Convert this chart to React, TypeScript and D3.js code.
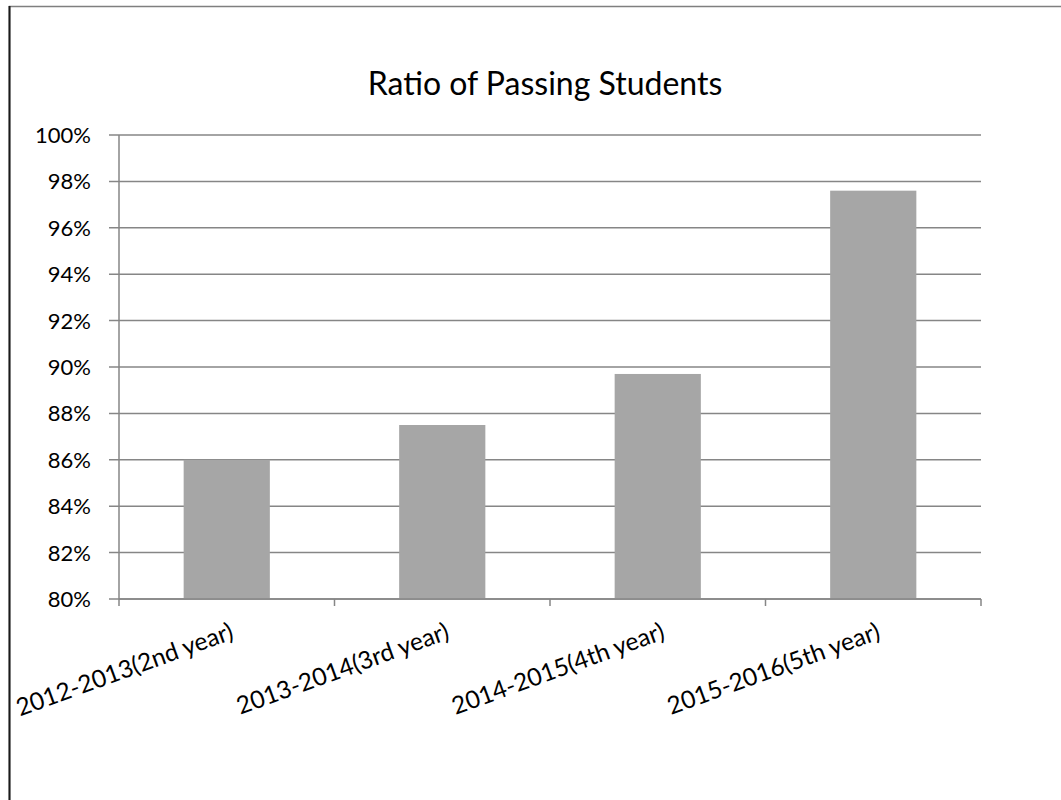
import { useEffect, useRef } from "react";
import * as d3 from "d3";

const categories = [
  "2012-2013(2nd year)",
  "2013-2014(3rd year)",
  "2014-2015(4th year)",
  "2015-2016(5th year)",
];
const passRatio = [0.86, 0.875, 0.897, 0.976];
const yTicks = [0.8, 0.82, 0.84, 0.86, 0.88, 0.9, 0.92, 0.94, 0.96, 0.98, 1.0];

const W = 1061;
const H = 800;
const FONT = "Lato, 'Open Sans', sans-serif";

export default function App() {
  const svgRef = useRef<SVGSVGElement>(null);

  useEffect(() => {
    if (!svgRef.current) return;
    const margin = { top: 135, right: 80, bottom: 201, left: 119 };
    const width = 981 - margin.left;
    const height = 599 - margin.top;

    d3.select(svgRef.current).selectAll("*").remove();
    const root = d3.select(svgRef.current).attr("width", W).attr("height", H);

    // outer chart frame
    root.append("rect")
      .attr("x", 9.5).attr("y", 6.5)
      .attr("width", W + 20).attr("height", H + 20)
      .attr("fill", "white")
      .attr("stroke", "#7f7f7f").attr("stroke-width", 1.5);
    root.append("line")
      .attr("x1", 9.5).attr("x2", 9.5).attr("y1", 6).attr("y2", H)
      .attr("stroke", "#1a1a1a").attr("stroke-width", 2);

    root.append("text")
      .attr("x", 545).attr("y", 95)
      .attr("text-anchor", "middle")
      .attr("font-family", FONT).attr("font-size", 32)
      .attr("fill", "#000")
      .text("Ratio of Passing Students");

    const svg = root.append("g").attr("transform", `translate(${margin.left},${margin.top})`);

    const x = d3.scaleBand().domain(categories).range([0, width]).paddingInner(0.6).paddingOuter(0.3);
    const y = d3.scaleLinear().domain([0.8, 1.0]).range([height, 0]);

    // gridlines
    svg.append("g")
      .selectAll("line")
      .data(yTicks)
      .enter()
      .append("line")
      .attr("x1", -10).attr("x2", width)
      .attr("y1", d => y(d)).attr("y2", d => y(d))
      .attr("stroke", "#868686").attr("stroke-width", 1.5);

    // bars
    svg.append("g")
      .selectAll("rect")
      .data(categories)
      .enter()
      .append("rect")
      .attr("x", d => x(d) || 0)
      .attr("y", (_d, i) => y(passRatio[i]))
      .attr("width", x.bandwidth())
      .attr("height", (_d, i) => height - y(passRatio[i]))
      .attr("fill", "#a6a6a6");

    // y axis line
    svg.append("line")
      .attr("x1", 0).attr("x2", 0).attr("y1", 0).attr("y2", height)
      .attr("stroke", "#868686").attr("stroke-width", 1.5);

    // x axis line + ticks
    svg.append("line")
      .attr("x1", 0).attr("x2", width).attr("y1", height).attr("y2", height)
      .attr("stroke", "#868686").attr("stroke-width", 1.5);
    const step = width / categories.length;
    svg.append("g")
      .selectAll("line")
      .data(d3.range(categories.length + 1))
      .enter()
      .append("line")
      .attr("x1", d => d * step).attr("x2", d => d * step)
      .attr("y1", height).attr("y2", height + 7)
      .attr("stroke", "#868686").attr("stroke-width", 1.5);

    // y labels
    svg.append("g")
      .selectAll("text")
      .data(yTicks)
      .enter()
      .append("text")
      .attr("x", -28)
      .attr("y", d => y(d))
      .attr("dy", "0.36em")
      .attr("text-anchor", "end")
      .attr("font-family", FONT).attr("font-size", 22)
      .attr("fill", "#000")
      .text(d => `${Math.round(d * 100)}%`);

    // category labels, rotated
    svg.append("g")
      .selectAll("text")
      .data(categories)
      .enter()
      .append("text")
      .attr("transform", d => `translate(${(x(d) || 0) + x.bandwidth() / 2 + 2},${height + 22}) rotate(-20)`)
      .attr("text-anchor", "end")
      .attr("dy", "0.75em")
      .attr("font-family", FONT).attr("font-size", 24.5)
      .attr("fill", "#000")
      .text(d => d);
  }, []);

  return (
    <div style={{ position: "absolute", left: 0, top: 0, width: W, height: H, overflow: "hidden", background: "white" }}>
      <svg ref={svgRef} style={{ display: "block" }} />
    </div>
  );
}
